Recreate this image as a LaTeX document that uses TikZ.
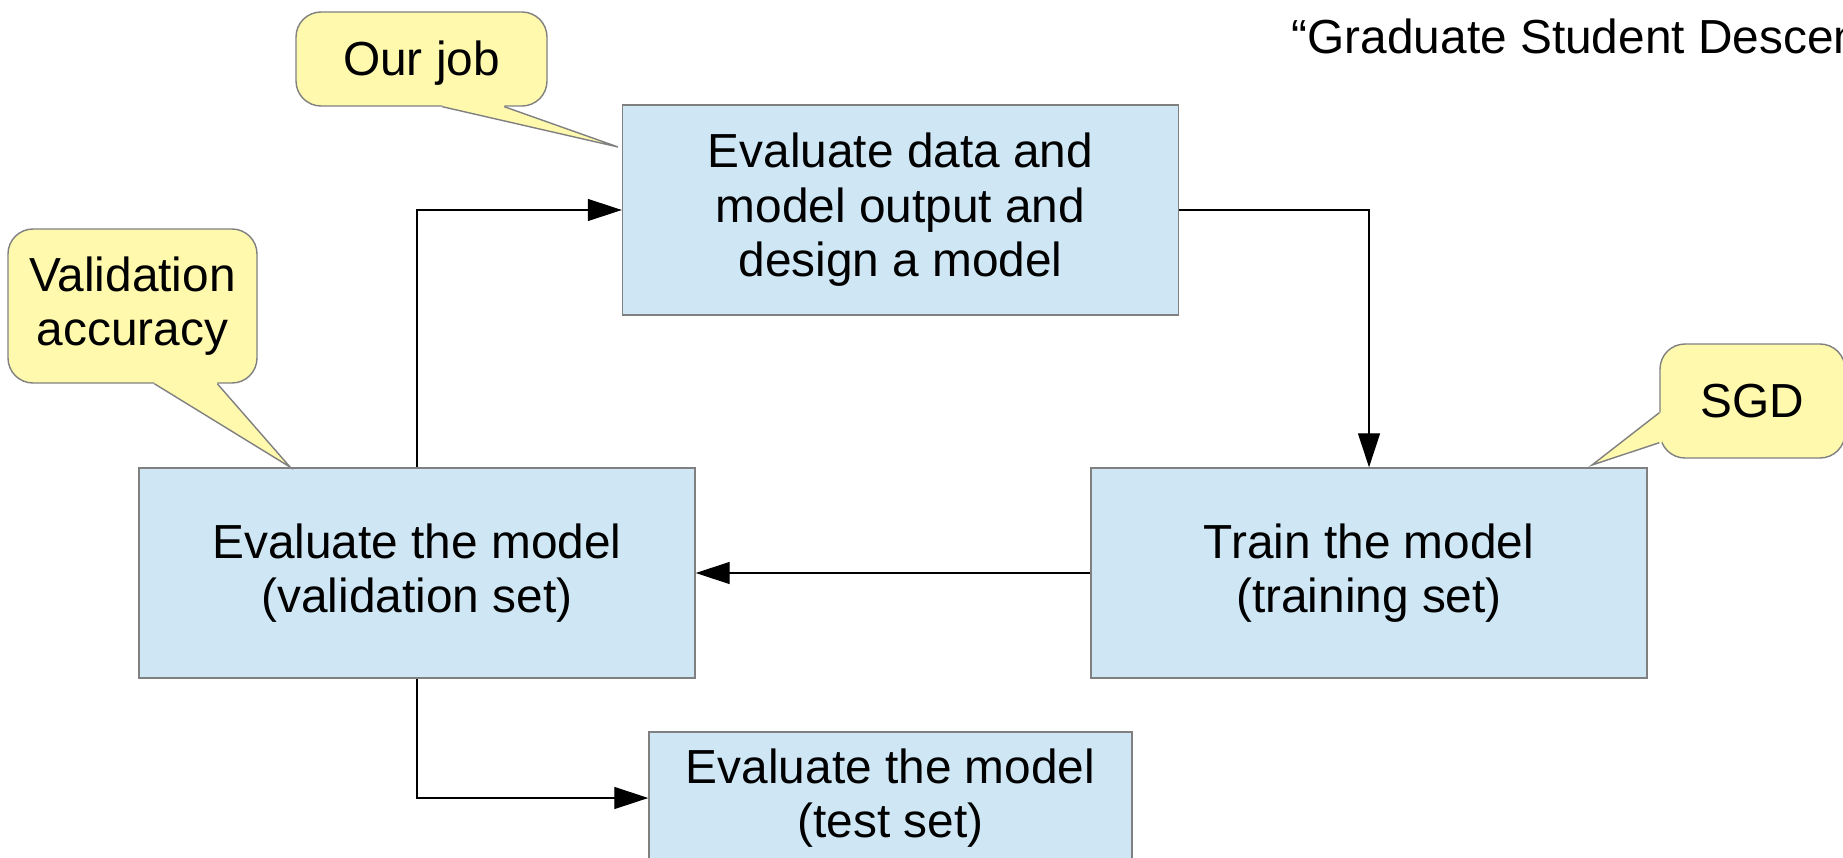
\documentclass[tikz,border=0pt]{standalone}
\usepackage{fontspec}
\setmainfont{Liberation Sans}
\usepackage{xcolor}
\usepackage{tikz}
\usetikzlibrary{arrows.meta,positioning}
\tikzset{>={Triangle[length=3.4mm,width=2.2mm]}}
\definecolor{boxblue}{RGB}{207,231,245}
\definecolor{noteyellow}{RGB}{255,249,174}
\definecolor{edgegray}{RGB}{128,128,128}
\newcommand\linestrut{\rule[-0.212em]{0pt}{1.117em}}

\begin{document}
\begin{tikzpicture}[font=\fontsize{13.6}{15.5}\selectfont,
    stepbox/.style={draw=edgegray,fill=boxblue,line width=0.4pt,align=center,inner sep=0pt,minimum width=5.56cm,minimum height=2.1cm,
        execute at begin node=\linestrut,execute at end node=\linestrut},
    note/.style={draw=edgegray,fill=noteyellow,line width=0.4pt,rounded corners=0.25cm,align=center,inner sep=0pt,
        execute at begin node=\linestrut,execute at end node=\linestrut},
    wire/.style={->,line width=0.35pt}]
    \useasboundingbox (0,0) rectangle (18.43,8.57);
    \clip (0,0) rectangle (18.43,8.57);

    \node[stepbox] (design) at (9.005,6.47) {Evaluate data and\\model output and\\design a model};
    \node[stepbox] (valid) at (4.17,2.84) {Evaluate the model\\(validation set)};
    \node[stepbox] (train) at (13.69,2.84) {Train the model\\(training set)};
    \node[stepbox,minimum width=4.83cm,minimum height=1.32cm] (test) at (8.905,0.59) {Evaluate the model\\(test set)};

    \draw[wire] (design.east) -| (train.north);
    \draw[wire] (train.west) -- (valid.east);
    \draw[wire] (valid.north) |- (design.west);
    \draw[wire] (valid.south) |- (test.west);

    \node[note,minimum width=2.51cm,minimum height=0.94cm] (job) at (4.215,7.98) {Our job};
    \node[note,minimum width=2.49cm,minimum height=1.54cm] (acc) at (1.325,5.51) {Validation\\accuracy};
    \node[note,minimum width=1.85cm,minimum height=1.14cm] (sgd) at (17.525,4.56) {SGD};
    \coordinate (jobtip) at (6.18,7.10);
    \coordinate (acctip) at (2.90,3.90);
    \coordinate (sgdtip) at (15.92,3.92);

    \fill[noteyellow] ([xshift=1.47cm,yshift=0.03cm]job.south west) -- ([xshift=1.47cm]job.south west) -- (jobtip)
        -- ([xshift=2.09cm]job.south west) -- ([xshift=2.09cm,yshift=0.03cm]job.south west) -- cycle;
    \draw[edgegray,line width=0.4pt] ([xshift=1.47cm]job.south west) -- (jobtip) -- ([xshift=2.09cm]job.south west);
    \fill[noteyellow] ([xshift=1.47cm,yshift=0.03cm]acc.south west) -- ([xshift=1.47cm]acc.south west) -- (acctip)
        -- ([xshift=2.10cm]acc.south west) -- ([xshift=2.10cm,yshift=0.03cm]acc.south west) -- cycle;
    \draw[edgegray,line width=0.4pt] ([xshift=1.47cm]acc.south west) -- (acctip) -- ([xshift=2.10cm]acc.south west);
    \fill[noteyellow] ([xshift=0.03cm,yshift=0.46cm]sgd.south west) -- ([yshift=0.46cm]sgd.south west) -- (sgdtip)
        -- ([yshift=0.16cm]sgd.south west) -- ([xshift=0.03cm,yshift=0.16cm]sgd.south west) -- cycle;
    \draw[edgegray,line width=0.4pt] ([yshift=0.46cm]sgd.south west) -- (sgdtip) -- ([yshift=0.16cm]sgd.south west);

    \node[anchor=base west,inner sep=0pt] (title) at (12.91,8.03) {“Graduate Student Descent”};
\end{tikzpicture}
\end{document}
